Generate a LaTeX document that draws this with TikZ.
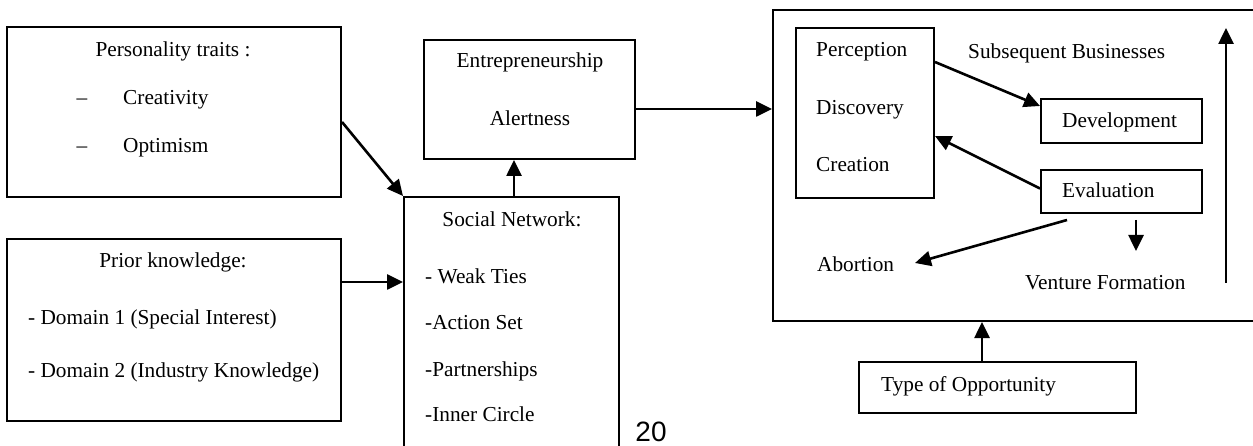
\documentclass[tikz,border=0pt]{standalone}
\usepackage{fontspec}
\setmainfont{Liberation Serif}
\newfontfamily\pagefont{Liberation Sans}
\usetikzlibrary{arrows.meta,calc}
\tikzset{
  box/.style={draw, line width=2pt, rectangle, inner sep=0pt},
  lbl/.style={inner sep=0pt, text height=0.7em, text depth=0.25em, font=\fontsize{21.3}{26}\selectfont},
  arr/.style={line width=2.6pt, -{Triangle[length=16pt,width=15pt]}},
}
\begin{document}
\begin{tikzpicture}[x=1pt,y=-1pt]
\useasboundingbox (0,0) rectangle (1253,446);
\clip (0,0) rectangle (1253,446);
% boxes
\node[box, minimum width=334pt, minimum height=170pt] (pers) at (174,112) {};
\node[box, minimum width=334pt, minimum height=182pt] (prior) at (174,330) {};
\node[box, minimum width=215pt, minimum height=273pt] (soc) at (511.5,333.5) {};
\node[box, minimum width=211pt, minimum height=119pt] (ent) at (529.5,99.5) {};
\node[box, minimum width=497pt, minimum height=311pt] (big) at (1021.5,165.5) {};
\node[box, minimum width=138pt, minimum height=170pt] (pdc) at (865,113) {};
\node[box, minimum width=161pt, minimum height=44pt] (dev) at (1121.5,121) {};
\node[box, minimum width=161pt, minimum height=43pt] (eval) at (1121.5,191.5) {};
\node[box, minimum width=277pt, minimum height=51pt] (type) at (997.5,387.5) {};
% texts
\node[lbl] (t1) at (173,54) {Personality traits :};
\node[lbl] (t2) at (82,102) {–};
\node[lbl, anchor=west] (t3) at (123,102) {Creativity};
\node[lbl] (t4) at (82,150) {–};
\node[lbl, anchor=west] (t5) at (123,150) {Optimism};
\node[lbl] (t6) at (173,265) {Prior knowledge:};
\node[lbl, anchor=west] (t7) at (28,322) {- Domain 1 (Special Interest)};
\node[lbl, anchor=west] (t8) at (28,375) {- Domain 2 (Industry Knowledge)};
\node[lbl] (t9) at (512,224) {Social Network:};
\node[lbl, anchor=west] (t10) at (425,281) {- Weak Ties};
\node[lbl, anchor=west] (t11) at (425,327) {-Action Set};
\node[lbl, anchor=west] (t12) at (425,374) {-Partnerships};
\node[lbl, anchor=west] (t13) at (425,419) {-Inner Circle};
\node[lbl] (t14) at (530,65) {Entrepreneurship};
\node[lbl] (t15) at (530,123) {Alertness};
\node[lbl, anchor=west] (t16) at (816,54) {Perception};
\node[lbl, anchor=west] (t17) at (816,112) {Discovery};
\node[lbl, anchor=west] (t18) at (816,169) {Creation};
\node[lbl, anchor=west] (t19) at (968,56) {Subsequent Businesses};
\node[lbl, anchor=west] (t20) at (1062,125) {Development};
\node[lbl, anchor=west] (t21) at (1062,195) {Evaluation};
\node[lbl, anchor=west] (abort) at (817,269) {Abortion};
\node[lbl, anchor=west] (t23) at (1025,287) {Venture Formation};
\node[lbl, anchor=west] (t24) at (881,389) {Type of Opportunity};
\node[inner sep=0pt, font=\pagefont\fontsize{28}{32}\selectfont] (pg) at (651,432) {20};
% connectors
\draw[arr] ([yshift=-10pt]pers.east) -- (soc.north west);
\coordinate (p1) at ([yshift=48pt]prior.east);
\draw[arr] (p1) -- (p1 -| soc.west);
\coordinate (s1) at ([xshift=2.5pt]soc.north);
\draw[arr] (s1) -- (s1 |- ent.south);
\coordinate (e1) at ([yshift=-9.5pt]ent.east);
\draw[arr] (e1) -- (e1 -| big.west);
\draw[arr] ([yshift=51pt]pdc.east) -- ([yshift=-8pt]dev.north west);
\draw[arr] ([yshift=3pt]eval.west) -- ([yshift=-23pt]pdc.east);
\coordinate (v1) at ([shift={(-54.5pt,-6pt)}]eval.south);
\coordinate (a1) at (915,263);
\draw[arr] (v1) -- (a1);
\coordinate (d1) at ([shift={(14.5pt,-6pt)}]eval.south);
\coordinate (d2) at ([shift={(14.5pt,-37pt)}]eval.south);
\draw[arr] (d1) -- (d2);
\coordinate (u1) at (1226,283);
\coordinate (u2) at (1226,28);
\draw[arr] (u1) -- (u2);
\coordinate (o1) at ([xshift=-15.5pt]type.north);
\draw[arr] (o1) -- (o1 |- big.south);
\end{tikzpicture}
\end{document}
